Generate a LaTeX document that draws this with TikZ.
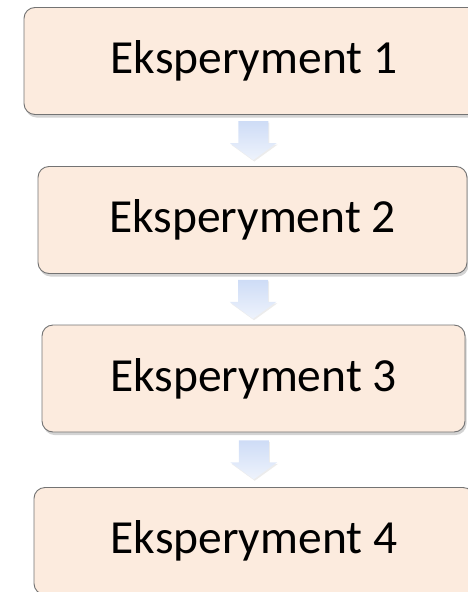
\documentclass[tikz,border=0pt]{standalone}
\usepackage{fontspec}
\setmainfont{Carlito}
\definecolor{boxfill}{RGB}{252, 235, 222}
\definecolor{boxline}{RGB}{115, 115, 115}
\definecolor{arrtop}{RGB}{206, 220, 246}
\definecolor{arrbot}{RGB}{238, 243, 252}
\usetikzlibrary{shadows, calc, positioning}

\begin{document}
\begin{tikzpicture}[
  x=1pt, y=-1pt,
  expbox/.style={draw=boxline, line width=0.9pt, fill=boxfill, rounded corners=11pt,
                 minimum height=107pt, inner sep=0pt,
                 font=\fontsize{47.5}{57}\selectfont,
                 drop shadow={shadow xshift=1.5pt, shadow yshift=-3pt, opacity=0.35, fill=gray}},
  downarr/.style={top color=arrtop, bottom color=arrbot, draw=none,
                  drop shadow={shadow xshift=1pt, shadow yshift=-1.5pt, opacity=0.15, fill=gray}},
]
\useasboundingbox (0,0) rectangle (468,592);

% Steps
\node[expbox, minimum width=460pt] (e1) at (254, 61)    {Eksperyment 1};
\node[expbox, minimum width=429pt] (e2) at (252.5, 220) {Eksperyment 2};
\node[expbox, minimum width=423pt] (e3) at (253.5, 378.5) {Eksperyment 3};
\node[expbox, minimum width=440pt] (e4) at (254, 541)   {Eksperyment 4};

% Arrows between steps
\foreach \a/\b in {e1/e2, e2/e3, e3/e4} {
  \coordinate (m\a) at ($(\a.south)!0.5!(\b.north)$);
  \path[downarr] ($(m\a)+(-15,-19.5)$) -- ($(m\a)+(15,-19.5)$) -- ($(m\a)+(15,2.5)$)
    -- ($(m\a)+(23.5,2.5)$) -- ($(m\a)+(0,19.5)$) -- ($(m\a)+(-23.5,2.5)$)
    -- ($(m\a)+(-15,2.5)$) -- cycle;
}
\end{tikzpicture}
\end{document}
